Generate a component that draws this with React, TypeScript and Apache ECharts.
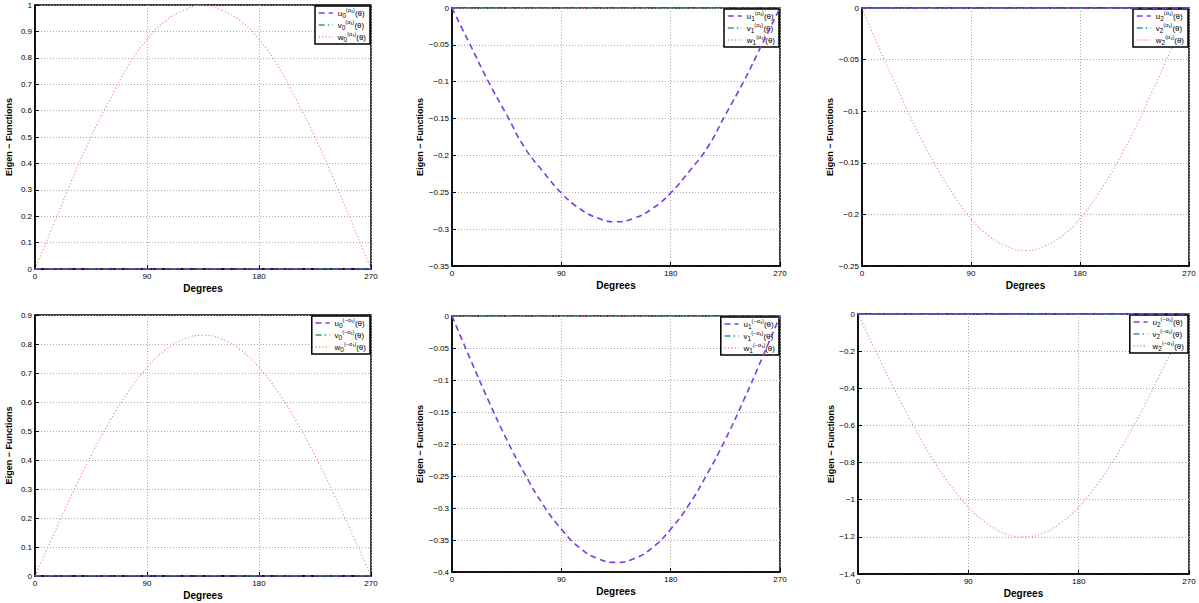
import React, { useEffect, useRef } from "react";
import * as echarts from "echarts";

// Angular positions (degrees) at which the eigen-functions are sampled
const degrees = [0, 15, 30, 45, 60, 75, 90, 105, 120, 135, 150, 165, 180, 195, 210, 225, 240, 255, 270];
const zeros = [0, 0, 0, 0, 0, 0, 0, 0, 0, 0, 0, 0, 0, 0, 0, 0, 0, 0, 0];

// Non-trivial component of each mode
const w0Plus = [0, 0.17, 0.34, 0.5, 0.64, 0.77, 0.87, 0.94, 0.98, 1.0, 0.98, 0.94, 0.87, 0.77, 0.64, 0.5, 0.34, 0.17, 0];
const u1Plus = [0, -0.05, -0.1, -0.145, -0.19, -0.222, -0.251, -0.272, -0.285, -0.29, -0.285, -0.272, -0.251, -0.222, -0.19, -0.145, -0.1, -0.05, 0];
const w2Plus = [0, -0.041, -0.08, -0.118, -0.151, -0.18, -0.204, -0.221, -0.231, -0.235, -0.231, -0.221, -0.204, -0.18, -0.151, -0.118, -0.08, -0.041, 0];
const w0Minus = [0, 0.144, 0.284, 0.415, 0.533, 0.636, 0.719, 0.78, 0.817, 0.83, 0.817, 0.78, 0.719, 0.636, 0.533, 0.415, 0.284, 0.144, 0];
const u1Minus = [0, -0.067, -0.132, -0.193, -0.247, -0.295, -0.333, -0.362, -0.379, -0.385, -0.379, -0.362, -0.333, -0.295, -0.247, -0.193, -0.132, -0.067, 0];
const w2Minus = [0, -0.208, -0.41, -0.6, -0.771, -0.919, -1.039, -1.127, -1.182, -1.2, -1.182, -1.127, -1.039, -0.919, -0.771, -0.6, -0.41, -0.208, 0];

// Y-axis ranges per panel: [min, max, step]
const yRanges = [
  [0, 1, 0.1],
  [-0.35, 0, 0.05],
  [-0.25, 0, 0.05],
  [0, 0.9, 0.1],
  [-0.4, 0, 0.05],
  [-1.4, 0, 0.2],
];

// Panel series values: [u, v, w]
const panelValues = [
  [zeros, zeros, w0Plus],
  [u1Plus, zeros, zeros],
  [zeros, zeros, w2Plus],
  [zeros, zeros, w0Minus],
  [u1Minus, zeros, zeros],
  [zeros, zeros, w2Minus],
];
const modeIndex = ["0", "1", "2", "0", "1", "2"];
const modeSign = ["(α₃)", "(α₃)", "(α₃)", "(−α₃)", "(−α₃)", "(−α₃)"];
const letters = ["u", "v", "w"];

const grids = [
  { left: 35, top: 5, width: 336, height: 264 },
  { left: 452, top: 8, width: 328, height: 258 },
  { left: 862, top: 8, width: 327, height: 258 },
  { left: 35, top: 315, width: 336, height: 261 },
  { left: 452, top: 316, width: 328, height: 256 },
  { left: 858, top: 314, width: 331, height: 260 },
];

const colors = ["#7a3ce6", "#2f9e80", "#f2868a"];
const lineTypes: any[] = [[6, 4], [6, 3, 1.5, 3], [1.2, 2.2]];
const lineWidths = [1.6, 1.4, 1.1];

const FONT = "Liberation Sans";

const fmt = (v: number) => String(+v.toFixed(2)).replace("-", "−");

export default function App() {
  const ref = useRef<HTMLDivElement>(null);
  useEffect(() => {
    const chart = echarts.init(ref.current!, null, { renderer: "svg" });
    const xAxis: any[] = [];
    const yAxis: any[] = [];
    const series: any[] = [];
    const legend: any[] = [];
    const labelMap: Record<string, string> = {};

    grids.forEach((g, i) => {
      const [ymin, ymax, step] = yRanges[i];
      xAxis.push({
        type: "value",
        gridIndex: i,
        min: 0,
        max: 270,
        interval: 90,
        name: "Degrees",
        nameLocation: "middle",
        nameGap: 14,
        nameTextStyle: { fontFamily: FONT, fontWeight: "bold", fontSize: 10, color: "#000" },
        axisLine: { show: true, onZero: false, lineStyle: { color: "#000", width: 1.5 } },
        axisTick: { show: true, inside: true, length: 4, lineStyle: { color: "#000" } },
        axisLabel: { fontFamily: FONT, fontSize: 8, color: "#000", margin: 3 },
        splitLine: { show: true, lineStyle: { color: "#aaa", type: [1, 2], width: 1 } },
      });
      yAxis.push({
        type: "value",
        gridIndex: i,
        min: ymin,
        max: ymax,
        interval: step,
        name: "Eigen − Functions",
        nameLocation: "middle",
        nameRotate: 90,
        nameGap: 22,
        nameTextStyle: { fontFamily: FONT, fontWeight: "bold", fontSize: 9, color: "#000" },
        axisLine: { show: true, onZero: false, lineStyle: { color: "#000", width: 1.5 } },
        axisTick: { show: true, inside: true, length: 4, lineStyle: { color: "#000" } },
        axisLabel: { fontFamily: FONT, fontSize: 8, color: "#000", margin: 3, formatter: fmt },
        splitLine: { show: true, lineStyle: { color: "#aaa", type: [1, 2], width: 1 } },
      });
      const names: string[] = [];
      letters.forEach((letter, k) => {
        const name = `${letter}${modeIndex[i]}${i < 3 ? "p" : "m"}`;
        names.push(name);
        labelMap[name] = `${letter}{sub|${modeIndex[i]}}{sup|${modeSign[i]}}(θ)`;
        series.push({
          type: "line",
          name,
          xAxisIndex: i,
          yAxisIndex: i,
          smooth: true,
          symbol: "none",
          z: 3 + (k === 0 ? 1 : 0),
          lineStyle: { color: colors[k], type: lineTypes[k], width: lineWidths[k] },
          itemStyle: { color: colors[k] },
          data: degrees.map((d, j) => [d, panelValues[i][k][j]]),
        });
      });
      legend.push({
        data: names,
        orient: "vertical",
        right: 1199 - (g.left + g.width) + 1,
        top: g.top + 1,
        backgroundColor: "#fff",
        borderColor: "#000",
        borderWidth: 1.5,
        borderRadius: 0,
        padding: [1, 4, 1, 3],
        itemGap: 0,
        itemWidth: 14,
        itemHeight: 12,
        selectedMode: false,
        itemStyle: { opacity: 0 },
        lineStyle: { width: 1.5 },
        formatter: (n: string) => labelMap[n],
        textStyle: {
          fontFamily: FONT,
          fontSize: 8,
          color: "#000",
          lineHeight: 12,
          rich: {
            sub: { fontSize: 6.5, verticalAlign: "bottom", lineHeight: 12, fontFamily: FONT, color: "#000" },
            sup: { fontSize: 5.5, verticalAlign: "top", lineHeight: 12, fontFamily: FONT, color: "#000" },
          },
        },
      });
    });

    chart.setOption({
      animation: false,
      backgroundColor: "#fff",
      grid: grids.map((g) => ({ ...g, show: true, borderColor: "#000", borderWidth: 1.5, backgroundColor: "transparent" })),
      xAxis,
      yAxis,
      legend,
      series,
    });
    return () => chart.dispose();
  }, []);
  return <div ref={ref} style={{ position: "fixed", left: 0, top: 0, width: 1199, height: 603 }} />;
}
